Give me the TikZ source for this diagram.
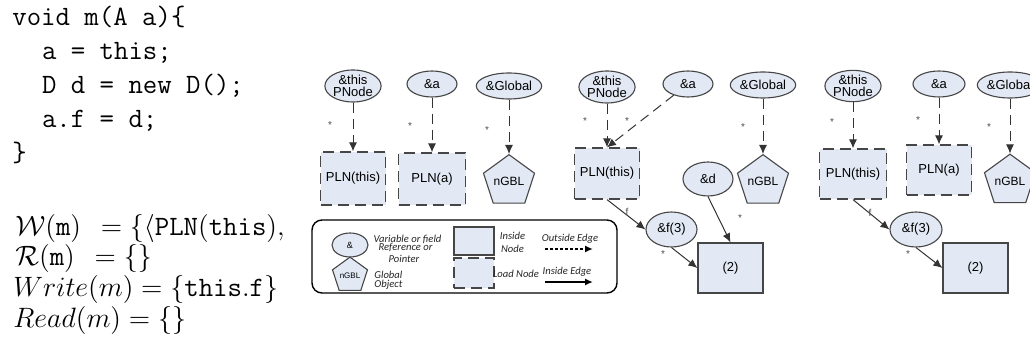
\RequirePackage{fix-cm}
\documentclass[tikz,border=0pt]{standalone}
\usepackage{fontspec}
\newfontfamily\dsans{Liberation Sans}
\newfontfamily\legf{Carlito}
\usetikzlibrary{shapes.geometric,arrows.meta}
\definecolor{fillc}{RGB}{226,233,244}
\definecolor{bordc}{RGB}{70,70,70}
\begin{document}
\begin{tikzpicture}[x=0.5pt,y=-0.5pt,
  ell/.style={ellipse,draw=bordc,fill=fillc,line width=0.55pt,inner sep=0pt,font=\dsans\fontsize{6.5}{6.3}\selectfont,align=center},
  inbox/.style={rectangle,draw=bordc,fill=fillc,line width=0.6pt,inner sep=0pt,font=\dsans\fontsize{6.5}{7}\selectfont},
  ldbox/.style={inbox,dash pattern=on 5.5pt off 3pt},
  pent/.style={regular polygon,regular polygon sides=5,draw=bordc,fill=fillc,line width=0.55pt,inner sep=0pt,font=\dsans\fontsize{6}{7}\selectfont},
  oute/.style={draw=black!80,line width=0.5pt,dash pattern=on 5pt off 3pt,-{Latex[length=4.5pt,width=4pt]}},
  ine/.style={draw=black!80,line width=0.5pt,-{Latex[length=4.5pt,width=4pt]}},
  lab/.style={font=\dsans\fontsize{5}{5}\selectfont,inner sep=0pt,text=black!70},
  codeln/.style={anchor=base west,inner sep=0pt,font=\ttfamily\fontsize{14}{16}\selectfont},
  mth/.style={anchor=base west,inner sep=0pt,font=\fontsize{14}{16}\selectfont},
  leg/.style={font=\legf\itshape\fontsize{5.3}{5.5}\selectfont,inner sep=0pt,text=black!85},
]
\useasboundingbox (0,0) rectangle (1030,347);

% code
\node[codeln] (c1) at (12,26) {void m(A a)\{};
\node[codeln] (c2) at (41.6,60) {a = this;};
\node[codeln] (c3) at (41.6,94) {D d = new D();};
\node[codeln] (c4) at (41.6,128) {a.f = d;};
\node[codeln] (c5) at (12,162) {\}};

% math
\node[mth] (wm) at (15,236) {$\mathcal{W}(\mathtt{m})\hspace{6pt} = \{\langle\mathtt{PLN(this)},$};
\node[mth] (rm) at (15,266) {$\mathcal{R}(\mathtt{m})\hspace{6pt} = \{\}$};
\node[mth] (wrm) at (13,297) {$Write(m) = \{\mathtt{this.f}\}$};
\node[mth] (rdm) at (13,328) {$Read(m) = \{\}$};

% legend
\node[draw=black,line width=0.7pt,rounded corners=5pt,fill=white,minimum width=152.5pt,minimum height=36.5pt,inner sep=0pt] (legend) at (464.5,256.5) {};
\node[ell,minimum width=18pt,minimum height=12pt,font=\dsans\fontsize{4.5}{4.5}\selectfont] (lell) at (350,245) {\&};
\node[leg] (lt1) at (407.5,239) {Variable or field};
\node[leg] (lt2) at (405.5,247.5) {Reference or};
\node[leg] (lt3) at (404,259) {Pointer};
\node[pent,minimum size=18.4pt,font=\dsans\fontsize{4}{4}\selectfont] (lpent) at (350,275.5) {nGBL};
\node[leg,anchor=west] (lt4) at (374,275) {Global};
\node[leg,anchor=west] (lt5) at (374,285) {Object};
\node[inbox,minimum width=20pt,minimum height=14pt] (lin) at (474,241) {};
\node[leg] (lt6) at (512.5,236) {Inside};
\node[leg] (lt7) at (512.5,249) {Node};
\node[ldbox,minimum width=20pt,minimum height=15pt] (lld) at (474,273) {};
\node[leg] (lt8) at (516,274) {Load Node};
\node[leg] (lt9) at (570,239) {Outside Edge};
\coordinate (lo1) at (545,249);
\coordinate (lo2) at (593,249);
\draw[draw=black,line width=0.8pt,dash pattern=on 1.5pt off 1pt,-{Latex[length=4pt,width=3.5pt]}] (lo1) -- (lo2);
\node[leg] (lt10) at (567,272) {Inside Edge};
\coordinate (li1) at (545,282);
\coordinate (li2) at (593,282);
\draw[draw=black,line width=0.8pt,-{Latex[length=4pt,width=3.5pt]}] (li1) -- (li2);

% panel 1
\node[ell,minimum width=25pt,minimum height=16pt] (athis1) at (353,86) {\&this\\PNode};
\node[ell,minimum width=25pt,minimum height=13pt] (aa1) at (432,84) {\&a};
\node[ell,minimum width=28pt,minimum height=13pt] (ag1) at (509,86) {\&Global};
\node[ldbox,minimum width=32.5pt,minimum height=26.5pt] (pthis1) at (353,178.5) {PLN(this)};
\node[ldbox,minimum width=33.5pt,minimum height=26pt] (pa1) at (432,179) {PLN(a)};
\node[pent,minimum size=21.5pt] (g1) at (509,181.5) {nGBL};
\draw[oute] (athis1) -- (pthis1);
\draw[oute] (aa1) -- (pa1);
\draw[oute] (ag1) -- (g1.corner 1);
\node[lab] (s11) at (330,125) {*};
\node[lab] (s12) at (410,126) {*};
\node[lab] (s13) at (487,130) {*};

% panel 2
\node[ell,minimum width=25pt,minimum height=16pt] (athis2) at (607,87) {\&this\\PNode};
\node[ell,minimum width=25pt,minimum height=13pt] (aa2) at (688,84) {\&a};
\node[ell,minimum width=27pt,minimum height=13pt] (ag2) at (763,85) {\&Global};
\node[ldbox,minimum width=32.5pt,minimum height=25.5pt] (pthis2) at (607,173.5) {PLN(this)};
\node[pent,minimum size=21.5pt] (g2) at (763,181.5) {nGBL};
\node[ell,minimum width=25pt,minimum height=17pt] (ad2) at (708,179) {\&d};
\node[ell,minimum width=25.5pt,minimum height=17.5pt] (af2) at (671.5,229.5) {\&f(3)};
\node[inbox,minimum width=32.5pt,minimum height=25pt] (two2) at (730.5,268) {(2)};
\draw[oute] (athis2) -- (pthis2);
\draw[oute] (aa2) -- (pthis2.north);
\draw[oute] (ag2) -- (g2.corner 1);
\draw[ine] (pthis2.south) -- (af2.west);
\draw[ine] (af2.south) -- (two2.west);
\draw[ine] (ad2.south) -- (two2.north);
\node[lab] (s21) at (585,121) {*};
\node[lab] (s22) at (627,121) {*};
\node[lab] (s23) at (743,127) {*};
\node[lab] (f2) at (627,212) {f};
\node[lab] (s24) at (663,254) {*};
\node[lab] (s25) at (740,218) {*};

% panel 3
\node[ell,minimum width=25.5pt,minimum height=15.5pt] (athis3) at (853,86) {\&this\\PNode};
\node[ell,minimum width=26pt,minimum height=13pt] (aa3) at (939,84) {\&a};
\node[ell,minimum width=27pt,minimum height=13pt] (ag3) at (1010,85) {\&Global};
\node[ldbox,minimum width=33.5pt,minimum height=25pt] (pthis3) at (853,174) {PLN(this)};
\node[ldbox,minimum width=32.5pt,minimum height=25pt] (pa3) at (939,170) {PLN(a)};
\node[pent,minimum size=21pt] (g3) at (1010,181) {nGBL};
\node[ell,minimum width=26pt,minimum height=17.5pt] (af3) at (916,229.5) {\&f(3)};
\node[inbox,minimum width=32.5pt,minimum height=25pt] (two3) at (975.5,268) {(2)};
\draw[oute] (athis3) -- (pthis3);
\draw[oute] (aa3) -- (pa3);
\draw[oute] (ag3) -- (g3.corner 1);
\draw[ine] (pthis3.south) -- (af3.west);
\draw[ine] (af3.south) -- (two3.west);
\node[lab] (s31) at (832,122) {*};
\node[lab] (s32) at (918,120) {*};
\node[lab] (s33) at (989,127) {*};
\node[lab] (f3) at (870,213) {f};
\node[lab] (s34) at (908,254) {*};
\end{tikzpicture}
\end{document}
